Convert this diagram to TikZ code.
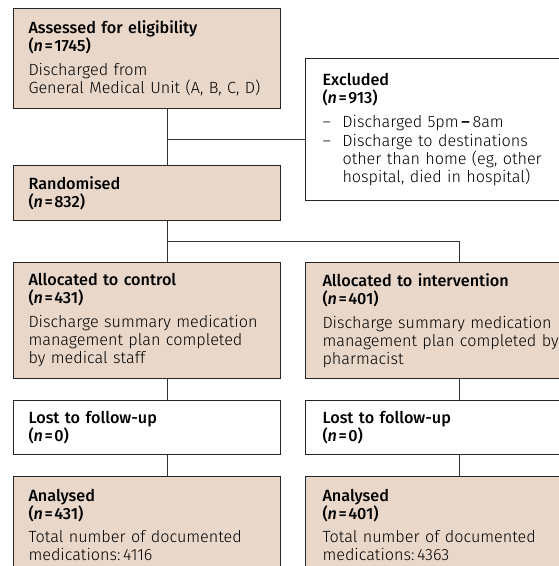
\documentclass[tikz,border=0pt]{standalone}
\usepackage{fontspec}
\setmainfont{Fira Sans}[UprightFont=* Light, BoldFont=* Medium, ItalicFont=* Light Italic, BoldItalicFont=* Medium Italic]
\usepackage{tikz}
\definecolor{beige}{RGB}{233,215,201}
\newcommand{\nval}[1]{\textbf{(\textit{n}\kern1.5pt=\kern1.5pt#1)}}
\newcommand{\dashitem}{\makebox[20pt][l]{--}}

\begin{document}
\begin{tikzpicture}[x=1pt,y=-1pt,
  box/.style={draw=black!85, line width=1pt, fill=beige, anchor=north west,
    align=left, inner xsep=15pt, font=\fontsize{16.2}{18}\selectfont},
  rbox/.style={box, inner xsep=17pt},
  link/.style={draw=black!80, line width=0.8pt}]
\useasboundingbox (0,0) rectangle (559,566);
\clip (0,0) rectangle (559,566);

\coordinate (lx) at (167,0);
\coordinate (rx) at (459,0);

% flow boxes
\node[box, text width=237pt, minimum height=100pt] (assess) at (13,8)
  {\textbf{Assessed for eligibility}\\ \nval{1745}\\[6pt]
   Discharged from\\ General Medical Unit (A, B, C, D)};
\node[rbox, fill=white, text width=240pt, minimum height=142pt] (excl) at (305,58)
  {\textbf{Excluded}\\ \nval{913}\\[6pt]
   \dashitem Discharged 5pm\,\textbf{--}\,8am\\[1pt]
   \dashitem Discharge to destinations\\ \hspace*{20pt}other than home (eg, other\\
   \hspace*{20pt}hospital, died in hospital)};
\node[box, text width=237pt, minimum height=55pt] (rand) at (13,165)
  {\textbf{Randomised}\\ \nval{832}};
\node[box, text width=237pt, minimum height=116pt] (ctrl) at (13,262)
  {\textbf{Allocated to control}\\ \nval{431}\\[6pt]
   Discharge summary medication\\ management plan completed\\ by medical staff};
\node[rbox, text width=250pt, minimum height=116pt] (intv) at (305,262)
  {\textbf{Allocated to intervention}\\ \nval{401}\\[6pt]
   Discharge summary medication\\ management plan completed by\\ pharmacist};
\node[box, fill=white, text width=237pt, minimum height=54pt] (lostc) at (13,400)
  {\textbf{Lost to follow-up}\\ \nval{0}};
\node[rbox, fill=white, text width=250pt, minimum height=54pt] (losti) at (305,400)
  {\textbf{Lost to follow-up}\\ \nval{0}};
\node[box, text width=237pt, minimum height=97pt] (anac) at (13,476)
  {\textbf{Analysed}\\ \nval{431}\\[5pt]
   Total number of documented\\ medications:\,4116};
\node[rbox, text width=250pt, minimum height=97pt] (anai) at (305,476)
  {\textbf{Analysed}\\ \nval{401}\\[5pt]
   Total number of documented\\ medications:\,4363};

% connectors
\draw[link] (assess.south -| lx) -- (rand.north -| lx);
\coordinate (b1) at (167,139);
\draw[link] (b1) -- (b1 -| excl.west);
\draw[link] (rand.south -| lx) -- (ctrl.north -| lx);
\coordinate (b2) at (167,241);
\draw[link] (b2) -| (intv.north -| rx);
\draw[link] (ctrl.south -| lx) -- (lostc.north -| lx);
\draw[link] (intv.south -| rx) -- (losti.north -| rx);
\draw[link] (lostc.south -| lx) -- (anac.north -| lx);
\draw[link] (losti.south -| rx) -- (anai.north -| rx);
\end{tikzpicture}
\end{document}
